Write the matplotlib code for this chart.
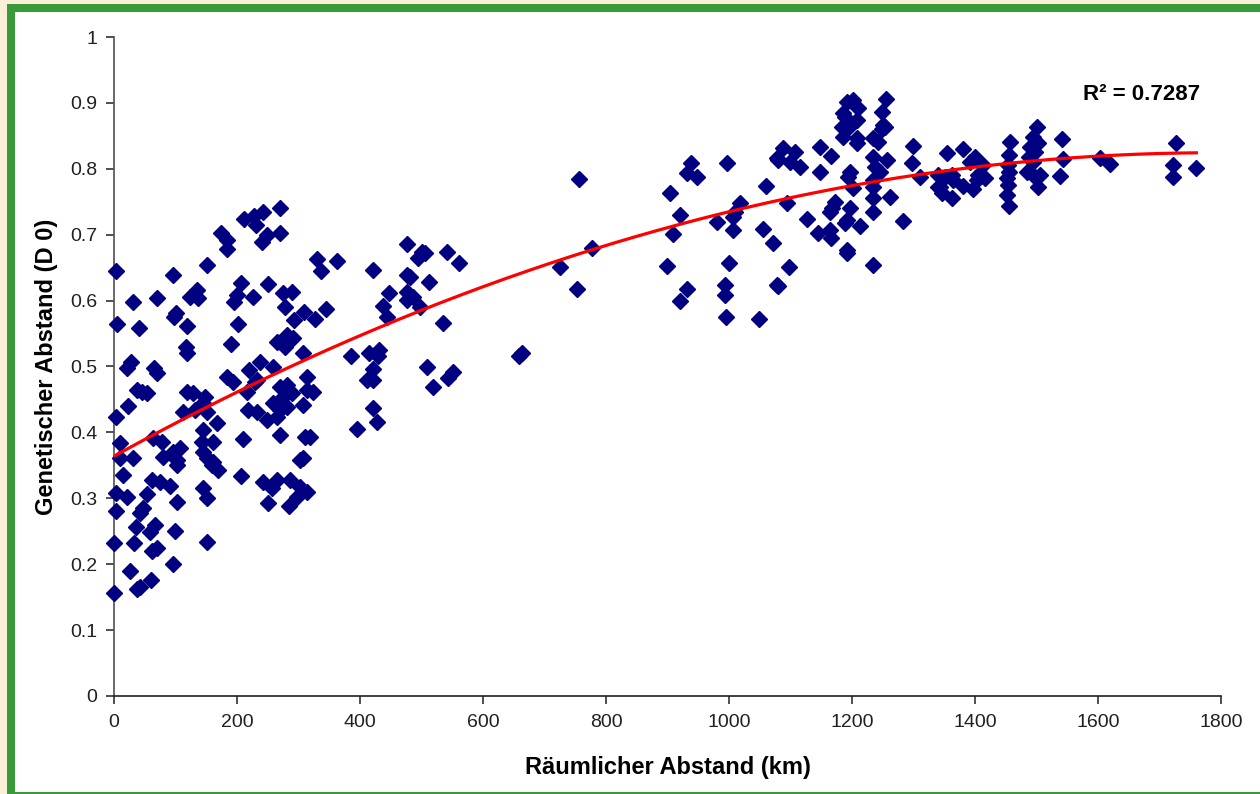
import numpy as np
import matplotlib
matplotlib.use("Agg")
import matplotlib.pyplot as plt
from matplotlib.patches import Rectangle
from matplotlib.ticker import FuncFormatter, MultipleLocator

plt.rcParams['font.family'] = ['Liberation Sans', 'DejaVu Sans']

# Raeumlicher Abstand (km) / genetischer Abstand
dist_km = [
    3, 270, 211, 228, 242, 231, 270, 241, 249, 174, 184, 184, 151, 96, 330, 337, 363,
    31, 70, 124, 135, 137, 206, 200, 195, 226, 250, 275, 289, 278, 309, 327, 345, 293,
    5, 41, 101, 98, 119, 202, 117, 119, 190, 265, 278, 291, 281, 307, 385, 21, 28, 65,
    70, 184, 220, 237, 258, 314,
    194, 232, 324, 314, 3, 23, 37, 45, 54, 119, 129, 148, 112, 132, 145, 151, 216, 229,
    218, 232, 249, 265, 270, 281, 259, 275, 289, 270, 281, 307, 167, 145, 210, 270, 311,
    319, 10, 63, 78, 107, 96, 80, 102, 102, 143, 161, 145, 151, 159, 169, 161, 10, 31,
    15, 62, 75, 91, 3, 21, 54, 102, 145, 151, 206, 242, 257, 265, 286, 302, 298, 314,
    302, 307, 285, 250, 3, 42, 47, 36, 59, 67, 99, 0, 33, 62, 70, 151, 96, 26, 37, 42,
    60, 0,
    395, 421, 427,
    756, 938, 932, 948, 997, 1078, 1060, 904, 1018, 920, 1006, 1010, 980, 1006, 909,
    1055, 1072, 899, 1000, 932, 920, 993, 993, 1078, 995, 1049, 777, 725, 753, 663, 659,
    476, 501, 506, 494, 541, 561, 421, 476, 481, 512, 447, 476, 486, 476, 437, 444, 498,
    535, 415, 431, 429, 421, 411, 421, 509, 519, 543, 551,
    1255, 1192, 1202, 1210, 1185, 1189, 1208, 1184, 1193, 1185, 1208, 1208, 1249, 1250,
    1249, 1254, 1234, 1242, 1148, 1166, 1088, 1107, 1099, 1080, 1115, 1148, 1299, 1297,
    1311, 1340, 1234, 1237, 1246, 1257, 1234, 1197, 1193, 1202, 1234, 1234, 1234, 1262,
    1283, 1172, 1167, 1164, 1197, 1192, 1189, 1127, 1213, 1145, 1164, 1166, 1192, 1192,
    1234, 1094, 1098, 1080,
    1501, 1494, 1503, 1490, 1498, 1487, 1494, 1485, 1494, 1506, 1503, 1457, 1455, 1454,
    1455, 1452, 1454, 1452, 1455, 1541, 1543, 1538, 1603, 1620, 1727, 1722, 1722, 1760,
    1354, 1381, 1400, 1392, 1413, 1405, 1416, 1403, 1340, 1351, 1363, 1364, 1343, 1346,
    1363, 1381, 1397,
]
gen_dist = [
    0.645, 0.741, 0.724, 0.728, 0.734, 0.715, 0.703, 0.689, 0.700, 0.703, 0.692, 0.678,
    0.654, 0.639, 0.663, 0.645, 0.660, 0.598, 0.604, 0.605, 0.616, 0.604, 0.627, 0.608,
    0.598, 0.605, 0.625, 0.611, 0.613, 0.590, 0.583, 0.572, 0.587, 0.571, 0.564, 0.558,
    0.581, 0.575, 0.561, 0.565, 0.530, 0.520, 0.534, 0.537, 0.530, 0.543, 0.548, 0.520,
    0.516, 0.498, 0.507, 0.498, 0.490, 0.484, 0.495, 0.507, 0.500, 0.484,
    0.477, 0.480, 0.461, 0.464, 0.423, 0.440, 0.464, 0.461, 0.460, 0.461, 0.460, 0.454,
    0.431, 0.434, 0.445, 0.431, 0.461, 0.477, 0.434, 0.431, 0.419, 0.423, 0.434, 0.439,
    0.445, 0.454, 0.460, 0.469, 0.472, 0.442, 0.414, 0.404, 0.390, 0.396, 0.393, 0.393,
    0.384, 0.391, 0.385, 0.376, 0.370, 0.363, 0.351, 0.358, 0.385, 0.385, 0.370, 0.361,
    0.351, 0.343, 0.355, 0.361, 0.361, 0.335, 0.328, 0.325, 0.319, 0.308, 0.302, 0.307,
    0.294, 0.316, 0.300, 0.334, 0.325, 0.316, 0.328, 0.328, 0.317, 0.302, 0.310, 0.358,
    0.361, 0.288, 0.293, 0.281, 0.278, 0.285, 0.256, 0.249, 0.259, 0.250, 0.232, 0.232,
    0.220, 0.224, 0.234, 0.200, 0.190, 0.162, 0.165, 0.176, 0.156,
    0.405, 0.437, 0.416,
    0.785, 0.809, 0.794, 0.788, 0.809, 0.816, 0.774, 0.763, 0.748, 0.730, 0.727, 0.734,
    0.719, 0.707, 0.701, 0.709, 0.687, 0.652, 0.657, 0.618, 0.599, 0.624, 0.608, 0.624,
    0.575, 0.572, 0.680, 0.651, 0.618, 0.520, 0.516,
    0.686, 0.674, 0.672, 0.665, 0.674, 0.657, 0.646, 0.639, 0.636, 0.628, 0.611, 0.613,
    0.605, 0.601, 0.592, 0.575, 0.590, 0.566, 0.520, 0.525, 0.516, 0.496, 0.480, 0.480,
    0.499, 0.469, 0.483, 0.492,
    0.906, 0.901, 0.904, 0.892, 0.885, 0.879, 0.874, 0.863, 0.862, 0.848, 0.847, 0.839,
    0.886, 0.866, 0.860, 0.863, 0.847, 0.841, 0.833, 0.819, 0.832, 0.826, 0.810, 0.813,
    0.803, 0.795, 0.835, 0.809, 0.788, 0.772, 0.818, 0.803, 0.795, 0.813, 0.783, 0.795,
    0.788, 0.771, 0.772, 0.756, 0.734, 0.757, 0.721, 0.750, 0.741, 0.734, 0.741, 0.722,
    0.718, 0.724, 0.713, 0.703, 0.707, 0.695, 0.677, 0.672, 0.654, 0.748, 0.651, 0.622,
    0.863, 0.848, 0.839, 0.833, 0.826, 0.818, 0.810, 0.795, 0.791, 0.791, 0.772, 0.841,
    0.821, 0.806, 0.795, 0.786, 0.775, 0.760, 0.744, 0.845, 0.815, 0.789, 0.816, 0.807,
    0.839, 0.806, 0.788, 0.801,
    0.824, 0.830, 0.818, 0.810, 0.806, 0.791, 0.786, 0.783, 0.791, 0.788, 0.791, 0.783,
    0.772, 0.763, 0.756, 0.774, 0.769,
]
r2_label = "R² = 0.7287"
x_label = "Räumlicher Abstand (km)"
y_label = "Genetischer Abstand (D 0)"

x = np.array(dist_km, dtype=float)
y = np.array(gen_dist, dtype=float)

# 2nd order polynomial trend line like the excel chart
coef = np.polyfit(x, y, 2)
xs = np.linspace(x.min(), x.max(), 200)
ys = np.polyval(coef, xs)

W, H = 1260, 794
fig = plt.figure(figsize=(W / 100, H / 100), dpi=100, facecolor="#FBEFD8")

# green frame + white panel (behind the axes)
fig.patches.append(Rectangle((7 / W, 0), 1 - 7 / W, 1 - 4 / H, transform=fig.transFigure,
                             facecolor="#389A38", edgecolor="none", zorder=-2))
fig.patches.append(Rectangle((15 / W, 2 / H), 1 - 15 / W, (792 - 12) / H, transform=fig.transFigure,
                             facecolor="white", edgecolor="none", zorder=-1))

ax = fig.add_axes([114 / W, (H - 696) / H, 1107 / W, 659 / H])
ax.set_zorder(1)
ax.set_facecolor("white")

ax.plot(x, y, linestyle="none", marker="D", markersize=8, color="#000080",
        markeredgecolor="#000080", zorder=3, clip_on=False)
ax.plot(xs, ys, color="#FF0000", linewidth=2.3, zorder=4)

ax.set_xlim(0, 1800)
ax.set_ylim(0, 1)
ax.xaxis.set_major_locator(MultipleLocator(200))
ax.yaxis.set_major_locator(MultipleLocator(0.1))
ax.yaxis.set_major_formatter(FuncFormatter(lambda v, p: "%g" % round(v, 1)))

for s in ["top", "right"]:
    ax.spines[s].set_visible(False)
ax.spines["left"].set_color("#505050")
ax.spines["bottom"].set_color("#202020")
ax.spines["left"].set_linewidth(1.2)
ax.spines["bottom"].set_linewidth(1.2)
ax.tick_params(axis="both", direction="out", length=6, width=1.1, labelsize=14, colors="#202020")
ax.tick_params(axis="x", pad=7)
ax.tick_params(axis="y", pad=6)

ax.set_xlabel(x_label, fontsize=17, fontweight="bold", labelpad=18)
ax.set_ylabel(y_label, fontsize=17, fontweight="bold", labelpad=9)

ax.text(1576, 0.905, r2_label, fontsize=16, fontweight="bold", ha="left", va="baseline")

fig.savefig("out.png", dpi=100, facecolor=fig.get_facecolor())
